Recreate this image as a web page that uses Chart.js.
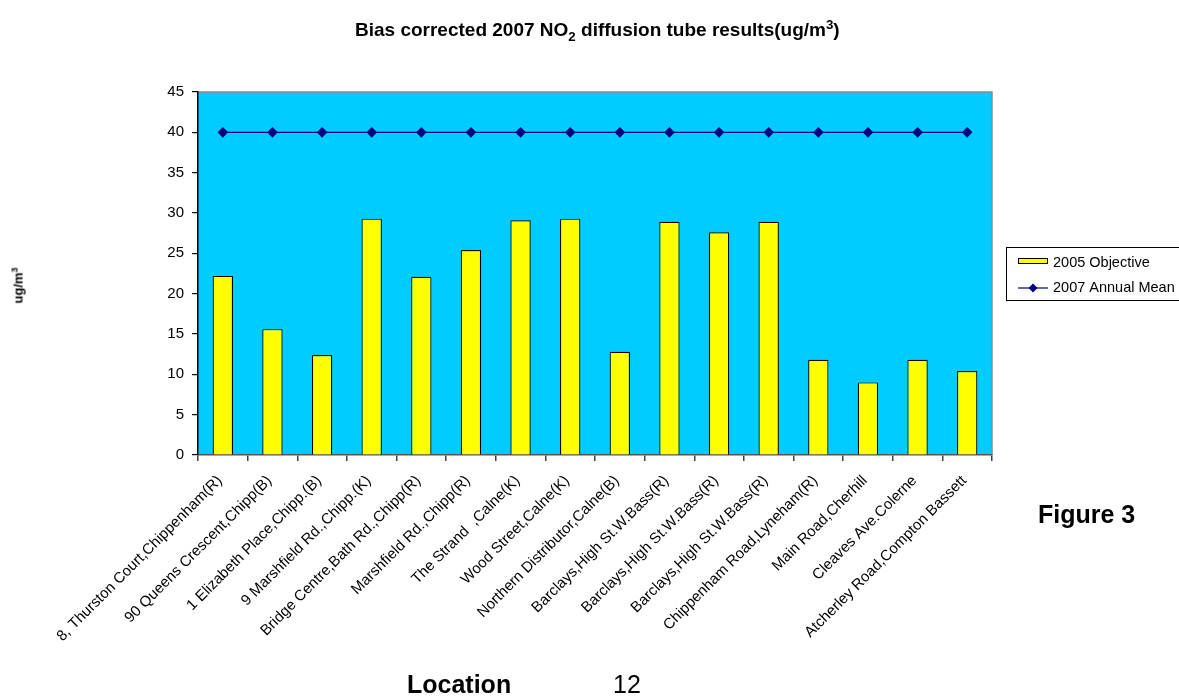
<!DOCTYPE html>
<html>
<head>
<meta charset="utf-8">
<script src="https://cdn.jsdelivr.net/npm/chart.js@4"></script>
<style>
  body { margin: 0; background: #fff; font-family: Arial, "Liberation Sans", sans-serif; }
  #wrap { position: relative; width: 1179px; height: 698px; overflow: hidden; }
  #grafico { position: absolute; left: 0; top: 0; }
  .txt { position: absolute; white-space: nowrap; color: #000; line-height: 1; }
  .txt sub, .txt sup { font-size: 70%; line-height: 0; }
</style>
</head>
<body>
<div id="wrap">
  <canvas id="grafico" width="1179" height="698"></canvas>
  <div class="txt" style="left:355px;top:20px;font-size:19px;font-weight:bold">Bias corrected 2007 NO<sub>2</sub> diffusion tube results(ug/m<sup>3</sup>)</div>
  <div class="txt" style="left:0px;top:279px;font-size:13px;font-weight:bold;transform:rotate(-90deg)">ug/m<sup>3</sup></div>
  <div class="txt" style="left:407px;top:672px;font-size:25px;font-weight:bold">Location</div>
  <div class="txt" style="left:613px;top:672px;font-size:25px">12</div>
  <div class="txt" style="left:1038px;top:502px;font-size:25px;font-weight:bold">Figure 3</div>
</div>
<script>
const locais = [
  '8, Thurston Court,Chippenham(R)',
  '90 Queens Crescent,Chipp(B)',
  '1 Elizabeth Place,Chipp.(B)',
  '9 Marshfield Rd.,Chipp.(K)',
  'Bridge Centre,Bath Rd.,Chipp(R)',
  'Marshfield Rd.,Chipp(R)',
  'The Strand  ,Calne(K)',
  'Wood Street,Calne(K)',
  'Northern Distributor,Calne(B)',
  'Barclays,High St.W.Bass(R)',
  'Barclays,High St.W.Bass(R)',
  'Barclays,High St.W.Bass(R)',
  'Chippenham Road,Lyneham(R)',
  'Main Road,Cherhill',
  'Cleaves Ave.Colerne',
  'Atcherley Road,Compton Bassett'
];
const resultados = [22.2, 15.6, 12.4, 29.3, 22.1, 25.4, 29.1, 29.3, 12.8, 28.9, 27.6, 28.9, 11.8, 9.0, 11.8, 10.4];
const objetivo = [40, 40, 40, 40, 40, 40, 40, 40, 40, 40, 40, 40, 40, 40, 40, 40];
const nomesSeries = ['2005 Objective', '2007 Annual Mean'];
const ticksY = [0, 5, 10, 15, 20, 25, 30, 35, 40, 45];

const fonte = 'Arial, "Liberation Sans", sans-serif';

// fundo azul da area do grafico com borda cinza
const fundoArea = {
  id: 'fundoArea',
  beforeDraw(chart) {
    const { ctx, chartArea: a } = chart;
    ctx.save();
    ctx.fillStyle = '#00CCFF';
    ctx.fillRect(a.left, a.top, a.right - a.left, a.bottom - a.top);
    ctx.strokeStyle = '#8a8a8a';
    ctx.lineWidth = 1.5;
    ctx.beginPath();
    ctx.moveTo(a.left, a.top);
    ctx.lineTo(a.right, a.top);
    ctx.lineTo(a.right, a.bottom);
    ctx.stroke();
    ctx.restore();
  }
};

// legenda com caixa, desenhada a mao
const legendaCaixa = {
  id: 'legendaCaixa',
  afterDraw(chart) {
    const ctx = chart.ctx;
    const ds = chart.data.datasets;
    const barra = ds.find(d => d.type !== 'line');
    const linha = ds.find(d => d.type === 'line');
    ctx.save();
    ctx.fillStyle = '#fff';
    ctx.fillRect(1006, 247, 180, 54);
    ctx.strokeStyle = '#000';
    ctx.lineWidth = 1;
    ctx.strokeRect(1006.5, 247.5, 180, 53);
    ctx.font = '14.5px ' + fonte;
    ctx.textBaseline = 'middle';
    // barra
    ctx.fillStyle = barra.backgroundColor;
    ctx.fillRect(1018, 258, 30, 6);
    ctx.strokeRect(1018.5, 258.5, 29, 5);
    ctx.fillStyle = '#000';
    ctx.fillText(barra.label, 1053, 263);
    // linha com marcador
    ctx.strokeStyle = linha.borderColor;
    ctx.lineWidth = 1.2;
    ctx.beginPath();
    ctx.moveTo(1018, 288);
    ctx.lineTo(1048, 288);
    ctx.stroke();
    ctx.fillStyle = linha.pointBackgroundColor;
    ctx.beginPath();
    ctx.moveTo(1033, 283.5);
    ctx.lineTo(1037.5, 288);
    ctx.lineTo(1033, 292.5);
    ctx.lineTo(1028.5, 288);
    ctx.closePath();
    ctx.fill();
    ctx.fillStyle = '#000';
    ctx.fillText(linha.label, 1053, 288);
    ctx.restore();
  }
};

new Chart(document.getElementById('grafico'), {
  type: 'bar',
  data: {
    labels: locais,
    datasets: [
      {
        label: nomesSeries[0],
        data: resultados,
        backgroundColor: '#FFFF00',
        borderColor: '#000',
        borderWidth: 1.2,
        barPercentage: 0.41,
        categoryPercentage: 1,
        order: 1
      },
      {
        type: 'line',
        label: nomesSeries[1],
        data: objetivo,
        borderColor: '#000080',
        borderWidth: 1.2,
        pointStyle: 'rectRot',
        pointRadius: 4.5,
        pointBackgroundColor: '#000080',
        pointBorderColor: '#000080',
        fill: false,
        order: 0
      }
    ]
  },
  options: {
    responsive: false,
    animation: false,
    devicePixelRatio: 1,
    layout: { padding: { left: 5, right: 187, top: 92, bottom: 0 } },
    plugins: {
      legend: { display: false },
      title: { display: false },
      tooltip: { enabled: false }
    },
    scales: {
      x: {
        offset: true,
        grid: { offset: true, drawOnChartArea: false, drawTicks: true, tickLength: 6, color: '#444', lineWidth: 1.5 },
        border: { color: '#555', width: 1.5 },
        ticks: {
          autoSkip: false,
          minRotation: 45,
          maxRotation: 45,
          labelOffset: -3,
          padding: 11,
          color: '#000',
          font: { family: fonte, size: 15 }
        },
        afterFit(s) { s.height = 243; }
      },
      y: {
        min: 0,
        max: 45,
        afterBuildTicks(s) { s.ticks = ticksY.map(v => ({ value: v })); },
        grid: { drawOnChartArea: false, drawTicks: true, tickLength: 6, color: '#000', lineWidth: 1.2 },
        border: { color: '#000', width: 1.5 },
        ticks: { color: '#000', padding: 8, font: { family: fonte, size: 15 } },
        afterFit(s) { s.width = 193; }
      }
    }
  },
  plugins: [fundoArea, legendaCaixa]
});
</script>
</body>
</html>
